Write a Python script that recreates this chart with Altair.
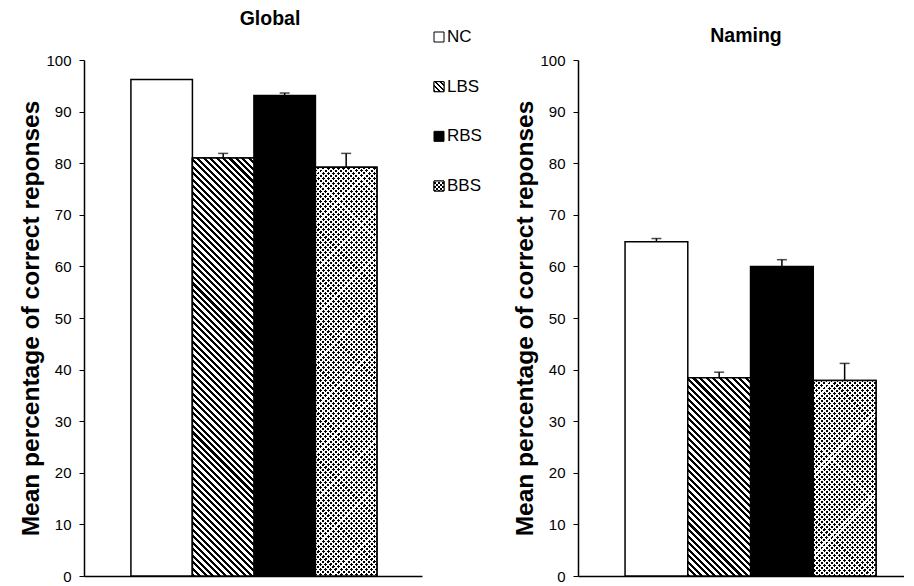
import altair as alt
import pandas as pd

# ---------------- data ----------------
groups = ["NC", "LBS", "RBS", "BBS"]
global_means = [96.2, 81.0, 93.1, 79.2]
global_errs = [0.0, 0.9, 0.5, 2.7]
naming_means = [64.8, 38.4, 60.0, 37.9]
naming_errs = [0.6, 1.1, 1.3, 3.3]
y_ticks = [0, 10, 20, 30, 40, 50, 60, 70, 80, 90, 100]
panel_titles = ["Global", "Naming"]
y_title = "Mean percentage of correct reponses"
base_fills = ["white", "white", "black", "white"]

# ---------------- style / layout ----------------
FONT = "Liberation Sans"
PLOT_H = 516
LEFT_W, LEFT_PO, LEFT_ALIGN = 338, 0.748, 0.51
RIGHT_W, RIGHT_PO, RIGHT_ALIGN = 326, 0.598, 0.627
LEG_W = 144
SPACING = 6
CLEAR = "rgba(255,255,255,0)"


def _r(v):
    return round(v, 5)


def diag(w, h, period, frac, c_on, c_off, back=True):
    """Diagonal stripes as a sharp-stop linear gradient in bbox units.
    back=True gives '\\' stripes, back=False gives '/' stripes."""
    s = (1 / h + 1 / w) / (1 / h ** 2 + 1 / w ** 2)
    length = (w + h) / 2 ** 0.5
    n = max(1, round(length / period))
    stops = []
    for k in range(n):
        a, b, c = k / n, (k + frac) / n, (k + 1) / n
        stops += [
            {"offset": _r(a), "color": c_on},
            {"offset": _r(b), "color": c_on},
            {"offset": _r(b), "color": c_off},
            {"offset": _r(c), "color": c_off},
        ]
    if back:
        return {"gradient": "linear", "x1": 0, "y1": 1, "x2": _r(s / h), "y2": _r(1 - s / w), "stops": stops}
    return {"gradient": "linear", "x1": 0, "y1": 0, "x2": _r(s / h), "y2": _r(s / w), "stops": stops}


def hatch(w, h, period=4.6, frac=0.47):
    return diag(w, h, period, frac, "black", "white", back=True)


def stipple_layers(w, h, period=3.6):
    rows = diag(w, h, period, 0.6, "black", "white", back=True)
    cols = diag(w, h, period, 0.42, "white", CLEAR, back=False)
    return rows, cols


def panel(means, errs, title, W, po, align, title_dx, title_offset):
    df = pd.DataFrame({"group": groups, "mean": means, "err": errs})
    df["top"] = df["mean"] + df["err"]
    step = W / (4 + 2 * po)

    x = alt.X(
        "group:N",
        sort=groups,
        scale=alt.Scale(domain=groups, paddingInner=0, paddingOuter=po, align=align),
        axis=alt.Axis(labels=False, ticks=False, title=None, domainColor="black", domainWidth=1.5),
    )
    y = alt.Y(
        "mean:Q",
        stack=None,
        scale=alt.Scale(domain=[0, 100], nice=False, zero=True),
        axis=alt.Axis(values=y_ticks, title=y_title, titlePadding=2, tickSize=5, labelPadding=8),
    )
    base = alt.Chart(df)
    bars = base.mark_bar(stroke="black", strokeWidth=1.5).encode(
        x=x,
        y=y,
        fill=alt.Fill("group:N", scale=alt.Scale(domain=groups, range=base_fills), legend=None),
    )
    i_l = groups.index("LBS")
    i_b = groups.index("BBS")
    h_l = means[i_l] / 100 * PLOT_H
    h_b = means[i_b] / 100 * PLOT_H
    lbs = base.transform_filter(alt.datum.group == "LBS").mark_bar(
        fill=hatch(step, h_l), stroke="black", strokeWidth=1.5
    ).encode(x=x, y=y)
    rows, cols = stipple_layers(step, h_b)
    bbs1 = base.transform_filter(alt.datum.group == "BBS").mark_bar(fill=rows).encode(x=x, y=y)
    bbs2 = base.transform_filter(alt.datum.group == "BBS").mark_bar(
        fill=cols, stroke="black", strokeWidth=1.5
    ).encode(x=x, y=y)
    eb = base.transform_filter(alt.datum.err > 0)
    rule = eb.mark_rule(color="black", strokeWidth=1.5).encode(x=x, y=y, y2="top:Q")
    cap = eb.mark_tick(color="black", size=10, thickness=1.5).encode(x=x, y="top:Q")
    return alt.layer(bars, lbs, bbs1, bbs2, rule, cap).properties(
        width=W,
        height=PLOT_H,
        title=alt.TitleParams(
            text=title,
            font=FONT,
            fontSize=19.5,
            fontWeight="bold",
            color="black",
            anchor="middle",
            frame="group",
            dx=title_dx,
            offset=title_offset,
        ),
    )


left = panel(global_means, global_errs, panel_titles[0], LEFT_W, LEFT_PO, LEFT_ALIGN, 17, 24)
right = panel(naming_means, naming_errs, panel_titles[1], RIGHT_W, RIGHT_PO, RIGHT_ALIGN, 5, 7)

# ---------------- legend (middle view) ----------------
leg_df = pd.DataFrame({"group": groups})
ly = alt.Y("group:N", sort=groups, scale=alt.Scale(domain=groups, range=[-23, 126], padding=0), axis=None)
lbase = alt.Chart(leg_df)
sq = lbase.mark_square(size=100, stroke="black", strokeWidth=1, opacity=1).encode(
    x=alt.value(11),
    y=ly,
    fill=alt.Fill("group:N", scale=alt.Scale(domain=groups, range=base_fills), legend=None),
)
sq_l = lbase.transform_filter(alt.datum.group == "LBS").mark_square(
    size=100, fill=hatch(10, 10, period=3.2, frac=0.5), stroke="black", strokeWidth=1, opacity=1
).encode(x=alt.value(11), y=ly)
r2, c2 = stipple_layers(10, 10, period=3.0)
sq_b1 = lbase.transform_filter(alt.datum.group == "BBS").mark_square(size=100, fill=r2, opacity=1).encode(
    x=alt.value(11), y=ly
)
sq_b2 = lbase.transform_filter(alt.datum.group == "BBS").mark_square(
    size=100, fill=c2, stroke="black", strokeWidth=1, opacity=1
).encode(x=alt.value(11), y=ly)
txt = lbase.mark_text(align="left", baseline="middle", font=FONT, fontSize=17, color="black").encode(
    x=alt.value(19), y=ly, text="group:N"
)
legend = alt.layer(sq, sq_l, sq_b1, sq_b2, txt).properties(width=LEG_W, height=PLOT_H)

chart = (
    alt.hconcat(left, legend, right, spacing=SPACING, bounds="flush")
    .properties(padding={"left": 10, "top": 0, "right": 0, "bottom": 0})
    .configure_view(strokeWidth=0)
    .configure_axis(
        labelFont=FONT,
        labelFontSize=15,
        labelColor="black",
        titleFont=FONT,
        titleFontSize=24.5,
        titleFontWeight="bold",
        titleColor="black",
        domainColor="black",
        domainWidth=1.5,
        tickColor="black",
        tickWidth=1,
        grid=False,
    )
)

chart.save("out.html", embed_options={"renderer": "svg", "actions": False})
